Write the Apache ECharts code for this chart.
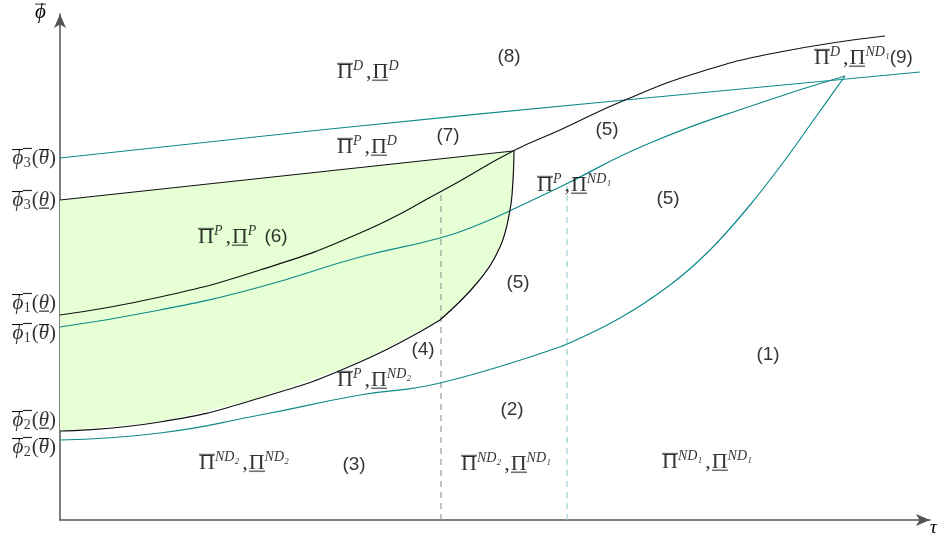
<!DOCTYPE html>
<html>
<head>
<meta charset="utf-8">
<script src="https://cdn.jsdelivr.net/npm/echarts@6/dist/echarts.min.js"></script>
<style>
  html, body { margin: 0; padding: 0; background: #fff; }
  #chart { width: 943px; height: 542px; }
</style>
</head>
<body>
<div id="chart"></div>
<script>
// region boundaries (x = tau, y = phi, arbitrary units)
var topTeal = [[0, 362], [260, 390], [565, 420], [860, 448]];
var upperBlack = [[0, 205], [100, 223], [200, 250], [300, 287], [380, 328], [453, 369], [500, 390], [565, 420], [640, 448], [720, 468], [825, 484]];
var pLine = [[0, 320], [453, 369]];
var midTeal = [[0, 193], [100, 210], [200, 233], [300, 263], [380, 282], [420, 296], [460, 314], [500, 333], [590, 377], [700, 417], [785, 444]];
var lowerBlack = [[0, 89], [100, 98], [200, 122], [300, 158], [380, 200]];
var rightBlack = [[380, 200], [417, 237], [440, 273], [450, 310], [453, 340], [454, 369]];
var lowTeal = [[0, 80], [100, 87], [200, 105], [300, 125], [380, 137], [505, 175]];
var lowTeal2 = [[505, 175], [560, 202], [610, 235], [650, 270], [690, 315], [725, 360], [755, 402], [785, 444]];
var dashGrey = [[381, 0], [381, 328]];
var dashTeal = [[507, 0], [507, 334]];

// labels on the phi axis: [y, subscript, theta bar ('o' over / 'u' under)]
var yLabels = [
  [362, '3', 'o'],
  [320, '3', 'u'],
  [217, '1', 'u'],
  [187, '1', 'o'],
  [100, '2', 'u'],
  [73, '2', 'o']
];

// region labels: [x, y, overline sup, underline sup, number]
var regionLabels = [
  [277, 448, 'D', 'D', ''],
  [277, 373, 'P', 'D', ''],
  [138, 283, 'P', 'P', '(6)'],
  [477, 335, 'P', 'ND₁', ''],
  [754, 462, 'D', 'ND₁', '(9)'],
  [277, 140, 'P', 'ND₂', ''],
  [139, 57, 'ND₂', 'ND₂', ''],
  [401, 56, 'ND₂', 'ND₁', ''],
  [602, 58, 'ND₁', 'ND₁', '']
];
var numLabels = [
  [449, 463, '(8)'],
  [388, 384, '(7)'],
  [547, 390, '(5)'],
  [608, 321, '(5)'],
  [458, 237, '(5)'],
  [363, 170, '(4)'],
  [708, 165, '(1)'],
  [452, 110, '(2)'],
  [294, 55, '(3)']
];

// a thin horizontal bar drawn as a token background (for over/underlines)
function bar(h, y) {
  var c = document.createElement('canvas');
  c.width = 8; c.height = h;
  var ctx = c.getContext('2d');
  ctx.fillStyle = '#000';
  ctx.fillRect(0, y, 8, 1.1);
  return { image: c };
}

var serif = 'Liberation Serif';
var piRich = {
  o: { fontFamily: serif, fontSize: 22, color: '#000', lineHeight: 26, backgroundColor: bar(26, 2.5) },
  u: { fontFamily: serif, fontSize: 22, color: '#000', lineHeight: 26, backgroundColor: bar(26, 22) },
  c: { fontFamily: serif, fontSize: 22, color: '#000', lineHeight: 26, padding: [0, 1, 0, 3] },
  s: { fontFamily: serif, fontStyle: 'italic', fontSize: 14, color: '#000', lineHeight: 13, verticalAlign: 'top' },
  n: { fontFamily: 'Liberation Sans', fontSize: 19, color: '#000', lineHeight: 26, padding: [0, 0, 0, 8] },
  m: { fontFamily: 'Liberation Sans', fontSize: 19, color: '#000', lineHeight: 26 }
};
var phiRich = {
  p: { fontFamily: serif, fontStyle: 'italic', fontSize: 21, color: '#000', lineHeight: 26, backgroundColor: bar(26, 2) },
  d: { fontFamily: serif, fontSize: 14, color: '#000', lineHeight: 16, padding: [10, 1, 0, 0], backgroundColor: bar(26, 2) },
  t: { fontFamily: serif, fontSize: 21, color: '#000', lineHeight: 26 },
  ho: { fontFamily: serif, fontStyle: 'italic', fontSize: 21, color: '#000', lineHeight: 26, backgroundColor: bar(26, 2) },
  hu: { fontFamily: serif, fontStyle: 'italic', fontSize: 21, color: '#000', lineHeight: 26, backgroundColor: bar(26, 22.5) }
};

var chart = echarts.init(document.getElementById('chart'));

function curve(data, color, smooth) {
  return {
    type: 'line', data: data, smooth: smooth, symbol: 'none', silent: true,
    lineStyle: { color: color, width: 1.2 }, z: 3
  };
}

var fillPoly = pLine.concat(rightBlack.slice().reverse().slice(1)).concat(lowerBlack.slice().reverse().slice(1));

chart.setOption({
  animation: false,
  grid: { left: 60, right: 13, top: 14, bottom: 22 },
  xAxis: {
    type: 'value', min: 0, max: 870,
    axisLine: { lineStyle: { color: '#555', width: 1.5 }, symbol: ['none', 'arrow'], symbolSize: [9, 14] },
    axisTick: { show: false }, axisLabel: { show: false }, splitLine: { show: false }
  },
  yAxis: {
    type: 'value', min: 0, max: 506,
    axisLine: { show: true, lineStyle: { color: '#555', width: 1.5 }, symbol: ['none', 'arrow'], symbolSize: [9, 14] },
    axisTick: { show: false }, axisLabel: { show: false }, splitLine: { show: false }
  },
  graphic: [
    { type: 'text', left: 35, top: 2, style: { text: '{p|ϕ}', rich: phiRich } },
    { type: 'text', left: 930, top: 518, style: { text: 'τ', font: 'italic 19px "Liberation Serif"', fill: '#000' } }
  ],
  series: [
    {
      type: 'custom', silent: true, z: 1,
      data: [0],
      renderItem: function (params, api) {
        return {
          type: 'polygon',
          shape: { points: fillPoly.map(function (p) { return api.coord(p); }) },
          style: { fill: '#e6ffd4', stroke: 'none' }
        };
      }
    },
    { type: 'line', data: dashGrey, symbol: 'none', silent: true, lineStyle: { color: '#999', width: 1.2, type: [6, 5] }, z: 2 },
    { type: 'line', data: dashTeal, symbol: 'none', silent: true, lineStyle: { color: '#9ccfd0', width: 1.2, type: [6, 5] }, z: 2 },
    curve(topTeal, '#0f8a8a', true),
    curve(midTeal, '#0f8a8a', true),
    curve(lowTeal, '#0f8a8a', true),
    curve(lowTeal2, '#0f8a8a', 0.4),
    curve(upperBlack, '#111', true),
    curve(pLine, '#111', false),
    curve(lowerBlack, '#111', true),
    curve(rightBlack, '#111', 0.4),
    {
      type: 'scatter', symbolSize: 0, silent: true, z: 5,
      data: yLabels.map(function (d) { return [0, d[0], d[1], d[2]]; }),
      label: {
        show: true, position: 'left', distance: 4,
        formatter: function (p) {
          var d = p.data;
          return '{p|ϕ}{d|' + d[2] + '}{t|(}{h' + d[3] + '|θ}{t|)}';
        },
        rich: phiRich
      }
    },
    {
      type: 'scatter', data: regionLabels, symbolSize: 0, silent: true, z: 5,
      label: {
        show: true, position: 'right', distance: 0,
        formatter: function (p) {
          var d = p.data;
          var s = '{o|Π}{s|' + d[2] + '}{c|,}{u|Π}{s|' + d[3] + '}';
          if (d[4]) s += (d[4] === '(9)' ? '{m|' : '{n|') + d[4] + '}';
          return s;
        },
        rich: piRich
      }
    },
    {
      type: 'scatter', data: numLabels, symbolSize: 0, silent: true, z: 5,
      label: {
        show: true, position: 'inside',
        fontFamily: 'Liberation Sans', fontSize: 19, color: '#000',
        formatter: function (p) { return p.data[2]; }
      }
    }
  ]
});
</script>
</body>
</html>
